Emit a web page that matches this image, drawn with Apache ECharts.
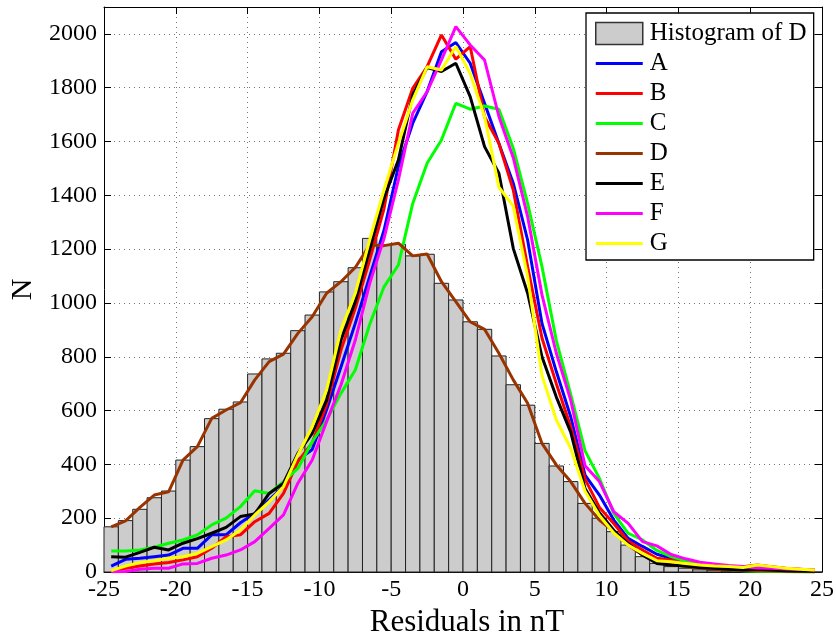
<!DOCTYPE html>
<html>
<head>
<meta charset="utf-8">
<script src="https://cdn.jsdelivr.net/npm/echarts@6/dist/echarts.min.js"></script>
<style>html,body{margin:0;padding:0;background:#fff;}#c{width:836px;height:635px;}</style>
</head>
<body>
<div id="c"></div>
<script>
// bin centres (1 nT bins from -25 to 25)
var binCenters = [-24.5,-23.5,-22.5,-21.5,-20.5,-19.5,-18.5,-17.5,-16.5,-15.5,-14.5,-13.5,-12.5,-11.5,-10.5,-9.5,-8.5,-7.5,-6.5,-5.5,-4.5,-3.5,-2.5,-1.5,-0.5,0.5,1.5,2.5,3.5,4.5,5.5,6.5,7.5,8.5,9.5,10.5,11.5,12.5,13.5,14.5,15.5,16.5,17.5,18.5,19.5,20.5,21.5,22.5,23.5,24.5];
var histD = [168,191,233,276,301,416,466,570,605,632,736,792,813,897,955,1041,1079,1131,1240,1215,1218,1175,1181,1073,1011,930,902,803,696,620,478,394,336,255,200,150,100,57,32,20,14,8,5,3,2,2,1,1,1,0];
var serA = [22,47,51,57,63,88,88,138,138,183,218,268,317,416,455,603,762,924,1098,1270,1507,1668,1785,1934,1968,1891,1742,1593,1445,1234,924,745,577,360,286,193,125,95,66,51,40,28,21,15,12,10,8,6,5,4];
var serB = [5,14,22,30,35,45,57,88,131,138,187,218,292,410,480,622,825,980,1160,1350,1643,1798,1878,1996,1906,1953,1692,1593,1420,1135,870,700,540,345,240,180,115,82,51,45,32,26,20,17,20,26,20,14,10,7];
var serC = [78,78,82,92,107,119,138,175,200,243,302,292,336,385,484,565,664,751,920,1060,1141,1370,1519,1606,1742,1720,1732,1720,1575,1370,1135,860,660,450,348,218,144,119,80,57,41,29,17,10,5,3,2,1,0,0];
var serD = [168,190,240,286,298,416,466,571,602,629,714,782,810,887,949,1036,1079,1132,1215,1213,1222,1175,1182,1079,1005,930,902,813,714,627,478,398,336,255,193,150,100,63,37,28,20,15,10,8,6,5,4,3,2,1];
var serE = [57,55,73,92,82,107,124,144,166,206,216,292,330,441,515,639,862,1005,1197,1390,1531,1773,1875,1860,1891,1767,1581,1482,1203,1036,800,650,520,310,220,155,105,63,32,26,22,17,14,10,7,10,7,5,4,3];
var serF = [1,2,10,14,14,30,32,51,63,82,113,162,212,330,416,559,695,862,1072,1240,1457,1705,1785,1903,2027,1959,1903,1693,1540,1321,1030,813,639,395,336,224,181,113,97,65,49,36,30,24,20,15,14,11,10,7];
var serG = [5,22,35,42,51,57,69,94,119,156,212,261,317,435,540,676,900,1036,1234,1420,1593,1754,1878,1866,1953,1853,1693,1430,1360,1098,730,565,460,300,210,145,100,69,42,38,32,26,22,20,17,26,20,14,10,7];
var seriesNames = ['A','B','C','D','E','F','G'];
var seriesColors = ['#0000ff','#ff0000','#00ff00','#993300','#000000','#ff00ff','#ffff00'];
var histName = 'Histogram of D';
var xLabel = 'Residuals in nT';
var yLabel = 'N';

var FONT = 'Liberation Serif';
var chart = echarts.init(document.getElementById('c'), null, {renderer:'canvas'});

function pairs(vals){ return binCenters.map(function(x,i){ return [x, vals[i]]; }); }
var allVals = [serA, serB, serC, serD, serE, serF, serG];

var series = [{
  name: histName,
  type: 'custom',
  xAxisIndex: 0, yAxisIndex: 0,
  itemStyle: {color:'#cccccc', borderColor:'#333333', borderWidth:1},
  renderItem: function(params, api){
    var c = api.value(0), h = api.value(1);
    var p0 = api.coord([c-0.5, h]);
    var p1 = api.coord([c+0.5, 0]);
    return {type:'rect', shape:{x:p0[0], y:p0[1], width:p1[0]-p0[0], height:p1[1]-p0[1]},
      style:{fill:'#cccccc', stroke:'#222222', lineWidth:1}};
  },
  data: pairs(histD),
  z: 1
}];
allVals.forEach(function(v, i){
  series.push({
    name: seriesNames[i], type:'line', data: pairs(v), symbol:'none', showSymbol:false,
    lineStyle:{color: seriesColors[i], width:3}, itemStyle:{color: seriesColors[i]},
    z: 2 + i, animation:false
  });
});

var legendData = [{name: histName, icon:'rect', itemStyle:{color:'#cccccc', borderColor:'#333333', borderWidth:1.5}}];
seriesNames.forEach(function(n, i){
  legendData.push({name:n, icon:'path://M0,0L47,0L47,3L0,3Z', itemStyle:{color:seriesColors[i]}});
});

var tickLen = 7;
var option = {
  animation:false,
  backgroundColor:'#ffffff',
  textStyle:{fontFamily:FONT},
  grid:{left:104, right:14, top:7, bottom:63, containLabel:false, outerBoundsMode:'none'},
  legend:{
    orient:'vertical', left:586, top:13,
    padding:[8,7,4,9],
    backgroundColor:'#ffffff', borderColor:'#000000', borderWidth:1.3,
    itemWidth:47, itemHeight:22, itemGap:5,
    textStyle:{fontFamily:FONT, fontSize:25, color:'#000', lineHeight:24, padding:[0,0,0,2]},
    data: legendData,
    selectedMode:false
  },
  xAxis:[{
    type:'value', min:-25, max:25, interval:5, position:'bottom',
    name:xLabel, nameLocation:'middle', nameGap:28,
    nameTextStyle:{fontFamily:FONT, fontSize:31, color:'#000', padding:[0,0,0,8]},
    axisLine:{show:true, onZero:false, lineStyle:{color:'#000', width:1}},
    axisTick:{show:true, inside:true, length:tickLen, lineStyle:{color:'#000'}},
    axisLabel:{fontFamily:FONT, fontSize:24, color:'#000', margin:6},
    splitLine:{show:true, lineStyle:{color:'#777', type:[1,4], width:1}}
  },{
    type:'value', min:-25, max:25, interval:5, position:'top',
    axisLine:{show:true, onZero:false, lineStyle:{color:'#000', width:1}},
    axisTick:{show:true, inside:true, length:tickLen, lineStyle:{color:'#000'}},
    axisLabel:{show:false}, splitLine:{show:false}
  }],
  yAxis:[{
    type:'value', min:0, max:2100, interval:200, position:'left',
    name:yLabel, nameLocation:'middle', nameGap:64, nameRotate:90,
    nameTextStyle:{fontFamily:FONT, fontSize:30, color:'#000'},
    axisLine:{show:true, onZero:false, lineStyle:{color:'#000', width:1}},
    axisTick:{show:true, inside:true, length:tickLen, lineStyle:{color:'#000'}},
    axisLabel:{fontFamily:FONT, fontSize:24, color:'#000', margin:7, showMaxLabel:false,
      formatter:function(v){ return String(v); }},
    splitLine:{show:true, lineStyle:{color:'#777', type:[1,4], width:1}}
  },{
    type:'value', min:0, max:2100, interval:200, position:'right',
    axisLine:{show:true, onZero:false, lineStyle:{color:'#000', width:1}},
    axisTick:{show:true, inside:true, length:tickLen, lineStyle:{color:'#000'}},
    axisLabel:{show:false}, splitLine:{show:false}
  }],
  series: series
};
chart.setOption(option);
</script>
</body>
</html>
